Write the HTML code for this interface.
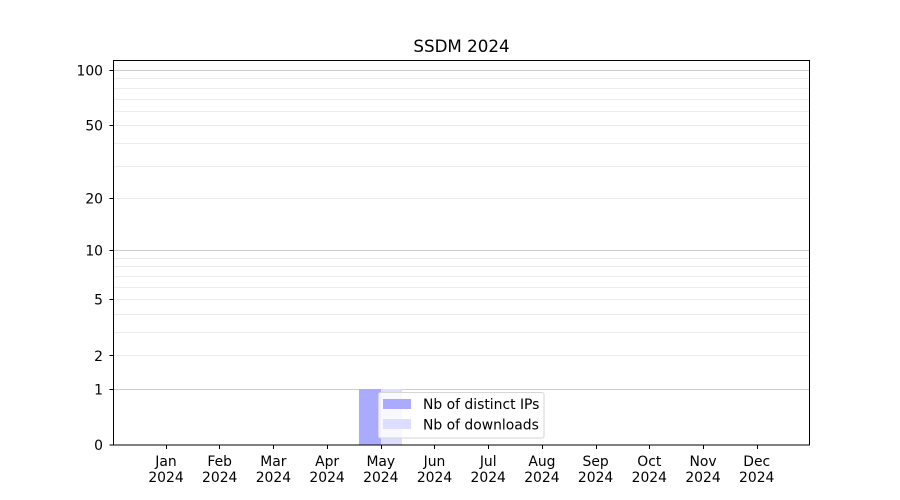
<!DOCTYPE html>
<html><head><meta charset="utf-8"><style>
html,body{margin:0;padding:0;background:#fff;}
svg{display:block;}
text{font-family:"DejaVu Sans","Liberation Sans",sans-serif;fill:#000;}
</style></head><body>
<svg width="900" height="500" viewBox="0 0 900 500" xmlns="http://www.w3.org/2000/svg">
<rect x="0" y="0" width="900" height="500" fill="#fff"/>
<!-- minor grid -->
<g stroke="#ebebeb" stroke-width="1" shape-rendering="crispEdges">
<line x1="113" x2="810" y1="355.5" y2="355.5"/>
<line x1="113" x2="810" y1="332.5" y2="332.5"/>
<line x1="113" x2="810" y1="314.5" y2="314.5"/>
<line x1="113" x2="810" y1="299.5" y2="299.5"/>
<line x1="113" x2="810" y1="287.5" y2="287.5"/>
<line x1="113" x2="810" y1="276.5" y2="276.5"/>
<line x1="113" x2="810" y1="266.5" y2="266.5"/>
<line x1="113" x2="810" y1="258.5" y2="258.5"/>
<line x1="113" x2="810" y1="198.5" y2="198.5"/>
<line x1="113" x2="810" y1="166.5" y2="166.5"/>
<line x1="113" x2="810" y1="143.5" y2="143.5"/>
<line x1="113" x2="810" y1="125.5" y2="125.5"/>
<line x1="113" x2="810" y1="111.5" y2="111.5"/>
<line x1="113" x2="810" y1="99.5" y2="99.5"/>
<line x1="113" x2="810" y1="88.5" y2="88.5"/>
<line x1="113" x2="810" y1="78.5" y2="78.5"/>
</g>
<!-- major grid -->
<g stroke="#cccccc" stroke-width="1" shape-rendering="crispEdges">
<line x1="113" x2="810" y1="389.5" y2="389.5"/>
<line x1="113" x2="810" y1="250.5" y2="250.5"/>
<line x1="113" x2="810" y1="70.5" y2="70.5"/>
</g>
<!-- bars -->
<rect x="359" y="389" width="22" height="56" fill="#aaaaff"/>
<rect x="381" y="389" width="21" height="56" fill="#ddddff"/>
<!-- legend -->
<rect x="378.5" y="392.5" width="165.5" height="45.5" rx="2" ry="2" fill="#ffffff" fill-opacity="0.8" stroke="#d6d6d6" stroke-width="1"/>
<rect x="383" y="399" width="28" height="10" fill="#aaaaff"/>
<rect x="383" y="419" width="28" height="10" fill="#ddddff"/>
<text x="423" y="409" font-size="13.9">Nb of distinct IPs</text>
<text x="423" y="429.5" font-size="13.9">Nb of downloads</text>
<!-- axes frame -->
<rect x="113.5" y="60.5" width="696" height="384.5" fill="none" stroke="#000" stroke-width="1" shape-rendering="crispEdges"/>
<!-- y ticks -->
<g stroke="#000" stroke-width="1" shape-rendering="crispEdges">
<line x1="109.5" x2="113" y1="445" y2="445"/>
<line x1="109.5" x2="113" y1="389.5" y2="389.5"/>
<line x1="109.5" x2="113" y1="355.5" y2="355.5"/>
<line x1="109.5" x2="113" y1="299.5" y2="299.5"/>
<line x1="109.5" x2="113" y1="250.5" y2="250.5"/>
<line x1="109.5" x2="113" y1="198.5" y2="198.5"/>
<line x1="109.5" x2="113" y1="125.5" y2="125.5"/>
<line x1="109.5" x2="113" y1="70.5" y2="70.5"/>
</g>
<g font-size="13.9" text-anchor="end">
<text x="103" y="450">0</text>
<text x="103" y="394.5">1</text>
<text x="103" y="361">2</text>
<text x="103" y="304.5">5</text>
<text x="103" y="255.5">10</text>
<text x="103" y="203.5">20</text>
<text x="103" y="130.5">50</text>
<text x="103" y="75.5">100</text>
</g>
<!-- x ticks -->
<g stroke="#000" stroke-width="1" shape-rendering="crispEdges">
<line x1="166.5" x2="166.5" y1="445" y2="449"/>
<line x1="219.5" x2="219.5" y1="445" y2="449"/>
<line x1="273.5" x2="273.5" y1="445" y2="449"/>
<line x1="327.5" x2="327.5" y1="445" y2="449"/>
<line x1="381.5" x2="381.5" y1="445" y2="449"/>
<line x1="434.5" x2="434.5" y1="445" y2="449"/>
<line x1="488.5" x2="488.5" y1="445" y2="449"/>
<line x1="542.5" x2="542.5" y1="445" y2="449"/>
<line x1="596.5" x2="596.5" y1="445" y2="449"/>
<line x1="649.5" x2="649.5" y1="445" y2="449"/>
<line x1="703.5" x2="703.5" y1="445" y2="449"/>
<line x1="757.5" x2="757.5" y1="445" y2="449"/>
</g>
<g font-size="13.9" text-anchor="middle">
<text x="166" y="466">Jan</text><text x="166" y="482">2024</text>
<text x="219.7" y="466">Feb</text><text x="219.7" y="482">2024</text>
<text x="273.4" y="466">Mar</text><text x="273.4" y="482">2024</text>
<text x="327.1" y="466">Apr</text><text x="327.1" y="482">2024</text>
<text x="380.8" y="466">May</text><text x="380.8" y="482">2024</text>
<text x="434.5" y="466">Jun</text><text x="434.5" y="482">2024</text>
<text x="488.2" y="466">Jul</text><text x="488.2" y="482">2024</text>
<text x="541.9" y="466">Aug</text><text x="541.9" y="482">2024</text>
<text x="595.6" y="466">Sep</text><text x="595.6" y="482">2024</text>
<text x="649.3" y="466">Oct</text><text x="649.3" y="482">2024</text>
<text x="703" y="466">Nov</text><text x="703" y="482">2024</text>
<text x="756.7" y="466">Dec</text><text x="756.7" y="482">2024</text>
</g>
<!-- title -->
<text x="461.5" y="52" font-size="16.7" text-anchor="middle">SSDM 2024</text>
</svg>
</body></html>
